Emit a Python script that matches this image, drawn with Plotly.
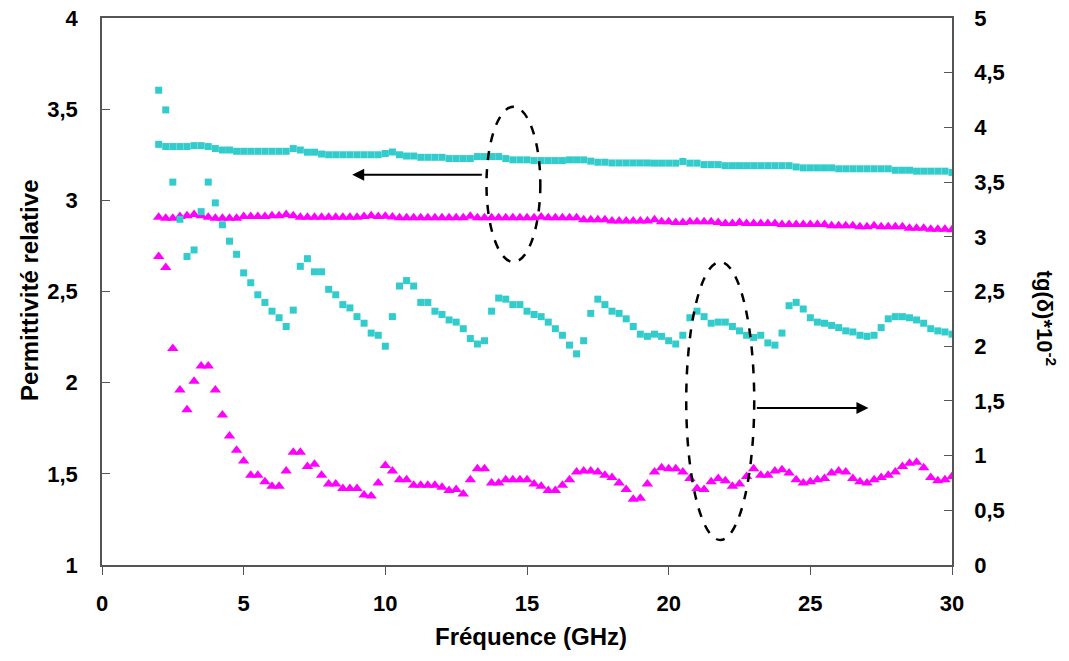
import plotly.graph_objects as go

freq_ghz = [
    2.00, 2.25, 2.50, 2.75, 3.00, 3.25, 3.50, 3.75, 4.00, 4.25,
    4.50, 4.75, 5.00, 5.25, 5.50, 5.75, 6.00, 6.25, 6.50, 6.75,
    7.00, 7.25, 7.50, 7.75, 8.00, 8.25, 8.50, 8.75, 9.00, 9.25,
    9.50, 9.75, 10.00, 10.25, 10.50, 10.75, 11.00, 11.25, 11.50, 11.75,
    12.00, 12.25, 12.50, 12.75, 13.00, 13.25, 13.50, 13.75, 14.00, 14.25,
    14.50, 14.75, 15.00, 15.25, 15.50, 15.75, 16.00, 16.25, 16.50, 16.75,
    17.00, 17.25, 17.50, 17.75, 18.00, 18.25, 18.50, 18.75, 19.00, 19.25,
    19.50, 19.75, 20.00, 20.25, 20.50, 20.75, 21.00, 21.25, 21.50, 21.75,
    22.00, 22.25, 22.50, 22.75, 23.00, 23.25, 23.50, 23.75, 24.00, 24.25,
    24.50, 24.75, 25.00, 25.25, 25.50, 25.75, 26.00, 26.25, 26.50, 26.75,
    27.00, 27.25, 27.50, 27.75, 28.00, 28.25, 28.50, 28.75, 29.00, 29.25,
    29.50, 29.75, 30.00,
]

# Permittivité relative (left axis)
perm_cyan = [
    3.307, 3.295, 3.295, 3.295, 3.295, 3.300, 3.300, 3.295, 3.284, 3.276,
    3.276, 3.269, 3.269, 3.269, 3.269, 3.269, 3.269, 3.269, 3.269, 3.284,
    3.276, 3.264, 3.264, 3.254, 3.250, 3.250, 3.250, 3.250, 3.250, 3.250,
    3.250, 3.250, 3.257, 3.265, 3.250, 3.243, 3.243, 3.236, 3.236, 3.236,
    3.236, 3.229, 3.229, 3.229, 3.229, 3.240, 3.240, 3.240, 3.240, 3.229,
    3.222, 3.222, 3.222, 3.218, 3.218, 3.218, 3.218, 3.218, 3.222, 3.222,
    3.222, 3.215, 3.209, 3.209, 3.205, 3.205, 3.205, 3.205, 3.205, 3.205,
    3.204, 3.204, 3.204, 3.204, 3.213, 3.204, 3.204, 3.196, 3.196, 3.196,
    3.190, 3.190, 3.190, 3.190, 3.190, 3.190, 3.190, 3.190, 3.190, 3.190,
    3.183, 3.178, 3.178, 3.178, 3.178, 3.178, 3.173, 3.173, 3.173, 3.173,
    3.173, 3.173, 3.173, 3.173, 3.165, 3.165, 3.165, 3.160, 3.160, 3.160,
    3.160, 3.160, 3.153,
]

perm_magenta = [
    2.907, 2.902, 2.902, 2.911, 2.916, 2.922, 2.916, 2.907, 2.902, 2.902,
    2.902, 2.902, 2.911, 2.911, 2.911, 2.911, 2.916, 2.916, 2.922, 2.916,
    2.907, 2.907, 2.907, 2.907, 2.907, 2.907, 2.907, 2.907, 2.907, 2.911,
    2.916, 2.911, 2.913, 2.908, 2.904, 2.904, 2.904, 2.904, 2.904, 2.904,
    2.904, 2.904, 2.904, 2.904, 2.913, 2.904, 2.904, 2.904, 2.904, 2.904,
    2.904, 2.904, 2.904, 2.904, 2.908, 2.904, 2.904, 2.904, 2.904, 2.904,
    2.894, 2.894, 2.894, 2.894, 2.887, 2.887, 2.887, 2.887, 2.887, 2.887,
    2.893, 2.883, 2.883, 2.878, 2.878, 2.883, 2.883, 2.883, 2.883, 2.878,
    2.873, 2.873, 2.878, 2.873, 2.873, 2.873, 2.873, 2.873, 2.867, 2.867,
    2.867, 2.867, 2.867, 2.867, 2.867, 2.860, 2.860, 2.860, 2.860, 2.855,
    2.855, 2.860, 2.855, 2.855, 2.855, 2.855, 2.847, 2.847, 2.847, 2.842,
    2.842, 2.842, 2.838,
]

# tg(delta) * 10^-2 (right axis)
tan_cyan = [
    4.34, 4.16, 3.50, 3.16, 2.82, 2.88, 3.23, 3.50, 3.31, 3.11,
    2.96, 2.84, 2.67, 2.58, 2.47, 2.40, 2.32, 2.26, 2.18, 2.33,
    2.73, 2.80, 2.68, 2.68, 2.52, 2.47, 2.38, 2.35, 2.27, 2.21,
    2.12, 2.10, 2.00, 2.27, 2.55, 2.60, 2.55, 2.40, 2.40, 2.32,
    2.29, 2.24, 2.22, 2.16, 2.07, 2.02, 2.05, 2.32, 2.44, 2.43,
    2.38, 2.38, 2.32, 2.29, 2.27, 2.22, 2.16, 2.10, 2.01, 1.93,
    2.05, 2.30, 2.43, 2.38, 2.32, 2.30, 2.25, 2.18, 2.11, 2.09,
    2.11, 2.09, 2.05, 2.02, 2.10, 2.26, 2.32, 2.27, 2.21, 2.22,
    2.22, 2.18, 2.14, 2.10, 2.08, 2.10, 2.03, 2.01, 2.12, 2.37,
    2.40, 2.34, 2.26, 2.22, 2.21, 2.19, 2.17, 2.14, 2.13, 2.10,
    2.09, 2.10, 2.17, 2.25, 2.27, 2.27, 2.26, 2.24, 2.21, 2.16,
    2.14, 2.13, 2.11,
]

tan_magenta = [
    2.82, 2.72, 1.98, 1.60, 1.42, 1.68, 1.82, 1.82, 1.60, 1.37,
    1.18, 1.05, 0.95, 0.82, 0.82, 0.76, 0.72, 0.72, 0.86, 1.03,
    1.03, 0.90, 0.92, 0.82, 0.74, 0.74, 0.70, 0.70, 0.70, 0.64,
    0.63, 0.75, 0.91, 0.86, 0.78, 0.78, 0.73, 0.73, 0.73, 0.73,
    0.71, 0.68, 0.69, 0.65, 0.78, 0.88, 0.88, 0.75, 0.75, 0.78,
    0.78, 0.78, 0.78, 0.74, 0.72, 0.68, 0.68, 0.73, 0.78, 0.85,
    0.86, 0.86, 0.85, 0.82, 0.80, 0.75, 0.69, 0.60, 0.61, 0.74,
    0.85, 0.89, 0.88, 0.88, 0.85, 0.79, 0.70, 0.69, 0.76, 0.79,
    0.77, 0.72, 0.74, 0.81, 0.88, 0.82, 0.82, 0.86, 0.87, 0.84,
    0.78, 0.75, 0.76, 0.78, 0.79, 0.84, 0.86, 0.85, 0.79, 0.76,
    0.75, 0.78, 0.80, 0.82, 0.85, 0.90, 0.93, 0.94, 0.89, 0.80,
    0.77, 0.78, 0.81,
]

x_ticks = [0, 5, 10, 15, 20, 25, 30]
left_ticks = [1, 1.5, 2, 2.5, 3, 3.5, 4]
right_ticks = [0, 0.5, 1, 1.5, 2, 2.5, 3, 3.5, 4, 4.5, 5]

CYAN = "#33CCCC"
MAGENTA = "#FF00FF"
AXIS = "#555555"
FONT = "Arial, 'Liberation Sans', sans-serif"

fig = go.Figure()
fig.add_trace(go.Scatter(x=freq_ghz, y=perm_cyan, mode="markers", yaxis="y",
                         marker=dict(symbol="square", size=7, color=CYAN), showlegend=False))
fig.add_trace(go.Scatter(x=freq_ghz, y=perm_magenta, mode="markers", yaxis="y",
                         marker=dict(symbol="triangle-up", size=10, color=MAGENTA), showlegend=False))
fig.add_trace(go.Scatter(x=freq_ghz, y=tan_cyan, mode="markers", yaxis="y2",
                         marker=dict(symbol="square", size=7, color=CYAN), showlegend=False))
fig.add_trace(go.Scatter(x=freq_ghz, y=tan_magenta, mode="markers", yaxis="y2",
                         marker=dict(symbol="triangle-up", size=10, color=MAGENTA), showlegend=False))

tickfont = dict(family=FONT, size=22, color="black", weight="bold")
titlefont = dict(family=FONT, size=24, color="black", weight="bold")
righttitlefont = dict(family=FONT, size=22, color="black", weight="bold")

# The page body adds an 8px offset, so the figure is sized to fit the window.
fig.update_layout(
    width=1061, height=653,
    margin=dict(l=94, r=117, t=10, b=96, autoexpand=False),
    paper_bgcolor="white", plot_bgcolor="white",
    separators=", ",
    xaxis=dict(range=[0, 30], tickvals=x_ticks, ticks="outside", ticklen=8, tickcolor=AXIS,
               showline=True, linecolor=AXIS, linewidth=1.5, mirror=True, showgrid=False,
               zeroline=False, tickfont=tickfont, ticklabelstandoff=10, automargin=False,
               ticklabeloverflow="allow"),
    yaxis=dict(range=[1, 4], tickvals=left_ticks, ticks="inside", ticklen=8, tickcolor=AXIS,
               showline=True, linecolor=AXIS, linewidth=1.5, showgrid=False, zeroline=False,
               tickfont=tickfont, ticklabelstandoff=18, automargin=False,
               ticklabeloverflow="allow"),
    yaxis2=dict(range=[0, 5], tickvals=right_ticks, ticks="inside", ticklen=8, tickcolor=AXIS,
                overlaying="y", side="right", showline=True, linecolor=AXIS, linewidth=1.5,
                showgrid=False, zeroline=False, tickfont=tickfont, ticklabelstandoff=16,
                automargin=False, ticklabeloverflow="allow"),
)

# Axis titles
fig.add_annotation(text="Fréquence (GHz)", xref="paper", yref="paper",
                   x=0.5047, y=-0.1316, xanchor="center", yanchor="middle",
                   showarrow=False, font=titlefont)
fig.add_annotation(text="Permittivité relative", xref="paper", yref="paper",
                   x=-0.0847, y=0.501, xanchor="center", yanchor="middle", textangle=-90,
                   showarrow=False, font=titlefont)
fig.add_annotation(text="tg(δ)*10<sup>-2</sup>", xref="paper", yref="paper",
                   x=1.111, y=0.4516, xanchor="center", yanchor="middle", textangle=90,
                   showarrow=False, font=righttitlefont)

# Dashed ellipses
fig.add_shape(type="circle", xref="x", yref="y", x0=13.57, x1=15.47, y0=2.662, y1=3.513,
              line=dict(color="black", width=2.5, dash="dash"))
fig.add_shape(type="circle", xref="x", yref="y", x0=20.62, x1=23.02, y0=1.137, y1=2.662,
              line=dict(color="black", width=2.5, dash="dash"))

# Arrows
fig.add_annotation(x=8.83, y=3.14, ax=13.46, ay=3.14, xref="x", yref="y", axref="x", ayref="y",
                   showarrow=True, arrowhead=2, arrowsize=1.2, arrowwidth=2, arrowcolor="black", text="")
fig.add_annotation(x=27.05, y=1.861, ax=23.06, ay=1.861, xref="x", yref="y", axref="x", ayref="y",
                   showarrow=True, arrowhead=2, arrowsize=1.2, arrowwidth=2, arrowcolor="black", text="")

fig.write_html("out.html")
